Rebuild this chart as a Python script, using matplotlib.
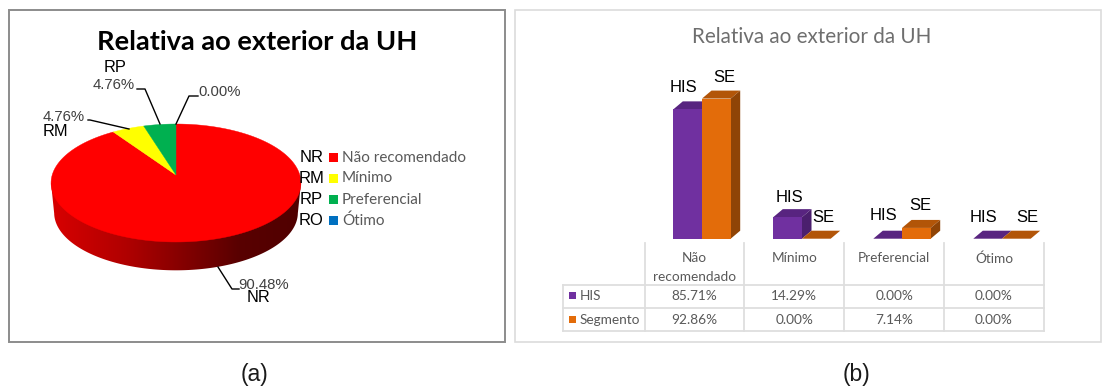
import numpy as np
import matplotlib
matplotlib.use("Agg")
import matplotlib.pyplot as plt
from matplotlib.colors import LinearSegmentedColormap
from matplotlib.patches import Polygon, Rectangle

## data
title = "Relativa ao exterior da UH"
pie_names = ["Não recomendado", "Mínimo", "Preferencial", "Ótimo"]
pie_codes = ["NR", "RM", "RP", "RO"]
pie_values = [90.48, 4.76, 4.76, 0.00]
pie_colors = ["#FF0000", "#FFFF00", "#00B050", "#0070C0"]

bar_cats = ["Não\nrecomendado", "Mínimo", "Preferencial", "Ótimo"]
his = [85.71, 14.29, 0.00, 0.00]
seg = [92.86, 0.00, 7.14, 0.00]

fig = plt.figure(figsize=(11.02, 3.87), dpi=100)
ax = fig.add_axes([0, 0, 1, 1])
ax.set_xlim(0, 1102)
ax.set_ylim(387, 0)
ax.axis("off")

GRAY = "#595959"
SANS = "Liberation Sans"
CAL = "Lato"

def txt(x, y, s, size, color="black", family=SANS, ha="center", weight="normal", axes=ax):
    return axes.text(x, y, s, fontsize=size, color=color, family=family, ha=ha,
                     va="center", fontweight=weight, zorder=10)

## panel boxes
ax.add_patch(Rectangle((9, 10), 496, 332, fc="white", ec="#8c8c8c", lw=1.4))
ax.add_patch(Rectangle((514.5, 10), 586.5, 332, fc="white", ec="#dcdcdc", lw=1.2))

## (a) pie, circle projected in perspective
cx, cy = 176, 175
sx, sy, k = 123.8, 57.9, 0.1356

def project(t, scale=1.0, drop=0.0):
    u, v = np.sin(t), np.cos(t)
    w = 1 + k * v
    return cx + scale * sx * u / w, cy + drop - scale * sy * v / w

# side wall
t = np.linspace(0, 2 * np.pi, 400)
t = t[np.cos(t) <= -k]
xl, yl = project(t, 0.975, 30)
xu, yu = project(np.array([np.arccos(-k), 2 * np.pi - np.arccos(-k)]))
wall = Polygon(np.vstack([[xu[0], yu[0]], np.column_stack([xl, yl]), [xu[1], yu[1]]]),
               closed=True, fc="none", ec="none")
ax.add_patch(wall)
wall_cmap = LinearSegmentedColormap.from_list(
    "wall", [(0, "#d80000"), (0.3, "#b00000"), (0.55, "#800000"), (0.75, "#590000"), (1, "#500000")])
im = ax.imshow(np.linspace(0, 1, 256).reshape(1, -1), cmap=wall_cmap, aspect="auto",
               extent=(51, 301, 275, 180), zorder=1)
im.set_clip_path(wall)
ax.set_xlim(0, 1102)
ax.set_ylim(387, 0)

# top slices
start = 0.0
total = sum(pie_values)
for val, col in zip(pie_values, pie_colors):
    if val > 0:
        a = np.linspace(start, start + val / total * 2 * np.pi, 200)
        x, y = project(a)
        pts = np.vstack([[cx, cy], np.column_stack([x, y])])
        ax.add_patch(Polygon(pts, closed=True, fc=col, ec=col, lw=0.3, zorder=2))
    start += val / total * 2 * np.pi

txt(257, 41.5, title, 19.6, family=CAL, weight="bold")

# leaders and labels
leaders = [([218, 232, 239], [267, 289, 289]),
           ([129, 90, 88], [129, 120, 120]),
           ([160, 145, 137], [124, 89, 89]),
           ([176, 189, 198], [124, 96, 96])]
for lx, ly in leaders:
    ax.plot(lx, ly, color="black", lw=1.0, zorder=5)

def pct(v):
    return "%.2f%%" % v

DARK = "#404040"
txt(264, 285, pct(pie_values[0]), 10.7, DARK)
txt(258, 298, pie_codes[0], 11.8, "black")
txt(64, 117, pct(pie_values[1]), 10.7, DARK)
txt(55, 131, pie_codes[1], 11.8, "black")
txt(114, 85, pct(pie_values[2]), 10.7, DARK)
txt(115, 68, pie_codes[2], 11.8, "black")
txt(220, 92, pct(pie_values[3]), 10.7, DARK)

# legend
for i, (name, code, col) in enumerate(zip(pie_names, pie_codes, pie_colors)):
    ly = 157.5 + 21 * i
    ax.add_patch(Rectangle((328.5, ly - 4.5), 9, 9, fc=col, ec="none"))
    txt(342, ly, name, 10.95, GRAY, CAL, ha="left")
    txt(311.5, ly, code, 12, "black")

txt(254, 374, "(a)", 16.5, "#1a1a1a")
txt(857, 374, "(b)", 16.5, "#1a1a1a")

## (b) bars
txt(812, 37, title, 14.9, "#6e6e6e", CAL)

W, H = 1102.0, 387.0
ax_b = fig.add_axes([652 / W, (H - 238.7) / H, 400 / W, 150.9 / H], zorder=2)
ax_b.set_xlim(-0.5, 3.5)
ax_b.set_ylim(0, 100)
ax_b.axis("off")
ax_b.patch.set_alpha(0)

bw = 0.287
dx, dy = 0.095, 5.3

def bar3d(pos, val, front, top, side):
    ax_b.bar(pos, val, bw, align="edge", color=front, edgecolor="none", zorder=3, clip_on=False)
    ax_b.add_patch(Polygon([[pos, val], [pos + bw, val], [pos + bw + dx, val + dy], [pos + dx, val + dy]],
                           fc=top, ec="none", zorder=2, clip_on=False))
    if val > 0:
        ax_b.add_patch(Polygon([[pos + bw, 0], [pos + bw + dx, dy], [pos + bw + dx, val + dy], [pos + bw, val]],
                               fc=side, ec="none", zorder=2, clip_on=False))

for i in range(len(bar_cats)):
    bar3d(i - bw, his[i], "#7030A0", "#582480", "#4b1f6e")
    bar3d(i, seg[i], "#E36C0A", "#B25508", "#8F4406")

# labels over the bars
his_lab = [(683, 87), (789, 197), (883, 216), (983, 217)]
se_lab = [(724, 78), (823, 218), (920, 206), (1027, 217)]
for (hx, hy_), (sx_, sy_) in zip(his_lab, se_lab):
    txt(hx, hy_, "HIS", 12)
    txt(sx_, sy_, "SE", 12)

## data table
vx = [644.7, 744.3, 844.3, 944, 1044]
hy = [284.5, 308, 331]
LINE = "#dedede"
for x in vx:
    ax.plot([x, x], [243, 331], color=LINE, lw=1.3, zorder=1)
ax.plot([563, 563], [284.5, 331], color=LINE, lw=1.3, zorder=1)
for y in hy:
    ax.plot([563, 1044], [y, y], color=LINE, lw=1.3, zorder=1)

for i, c in enumerate(bar_cats):
    mx = (vx[i] + vx[i + 1]) / 2
    if "\n" in c:
        a, b = c.split("\n")
        txt(mx, 258.5, a, 9.8, GRAY, CAL)
        txt(mx, 277, b, 9.8, GRAY, CAL)
    else:
        txt(mx, 258.5, c, 9.8, GRAY, CAL)
    txt(mx, 296.5, pct(his[i]), 9.8, GRAY, CAL)
    txt(mx, 320, pct(seg[i]), 9.8, GRAY, CAL)

ax.add_patch(Rectangle((569, 292), 7, 7, fc="#7030A0", ec="none"))
ax.add_patch(Rectangle((569, 315.5), 7, 7, fc="#E36C0A", ec="none"))
txt(580, 296.5, "HIS", 9.8, GRAY, CAL, ha="left")
txt(580, 320, "Segmento", 9.8, GRAY, CAL, ha="left")

fig.savefig("out.png", dpi=100)
